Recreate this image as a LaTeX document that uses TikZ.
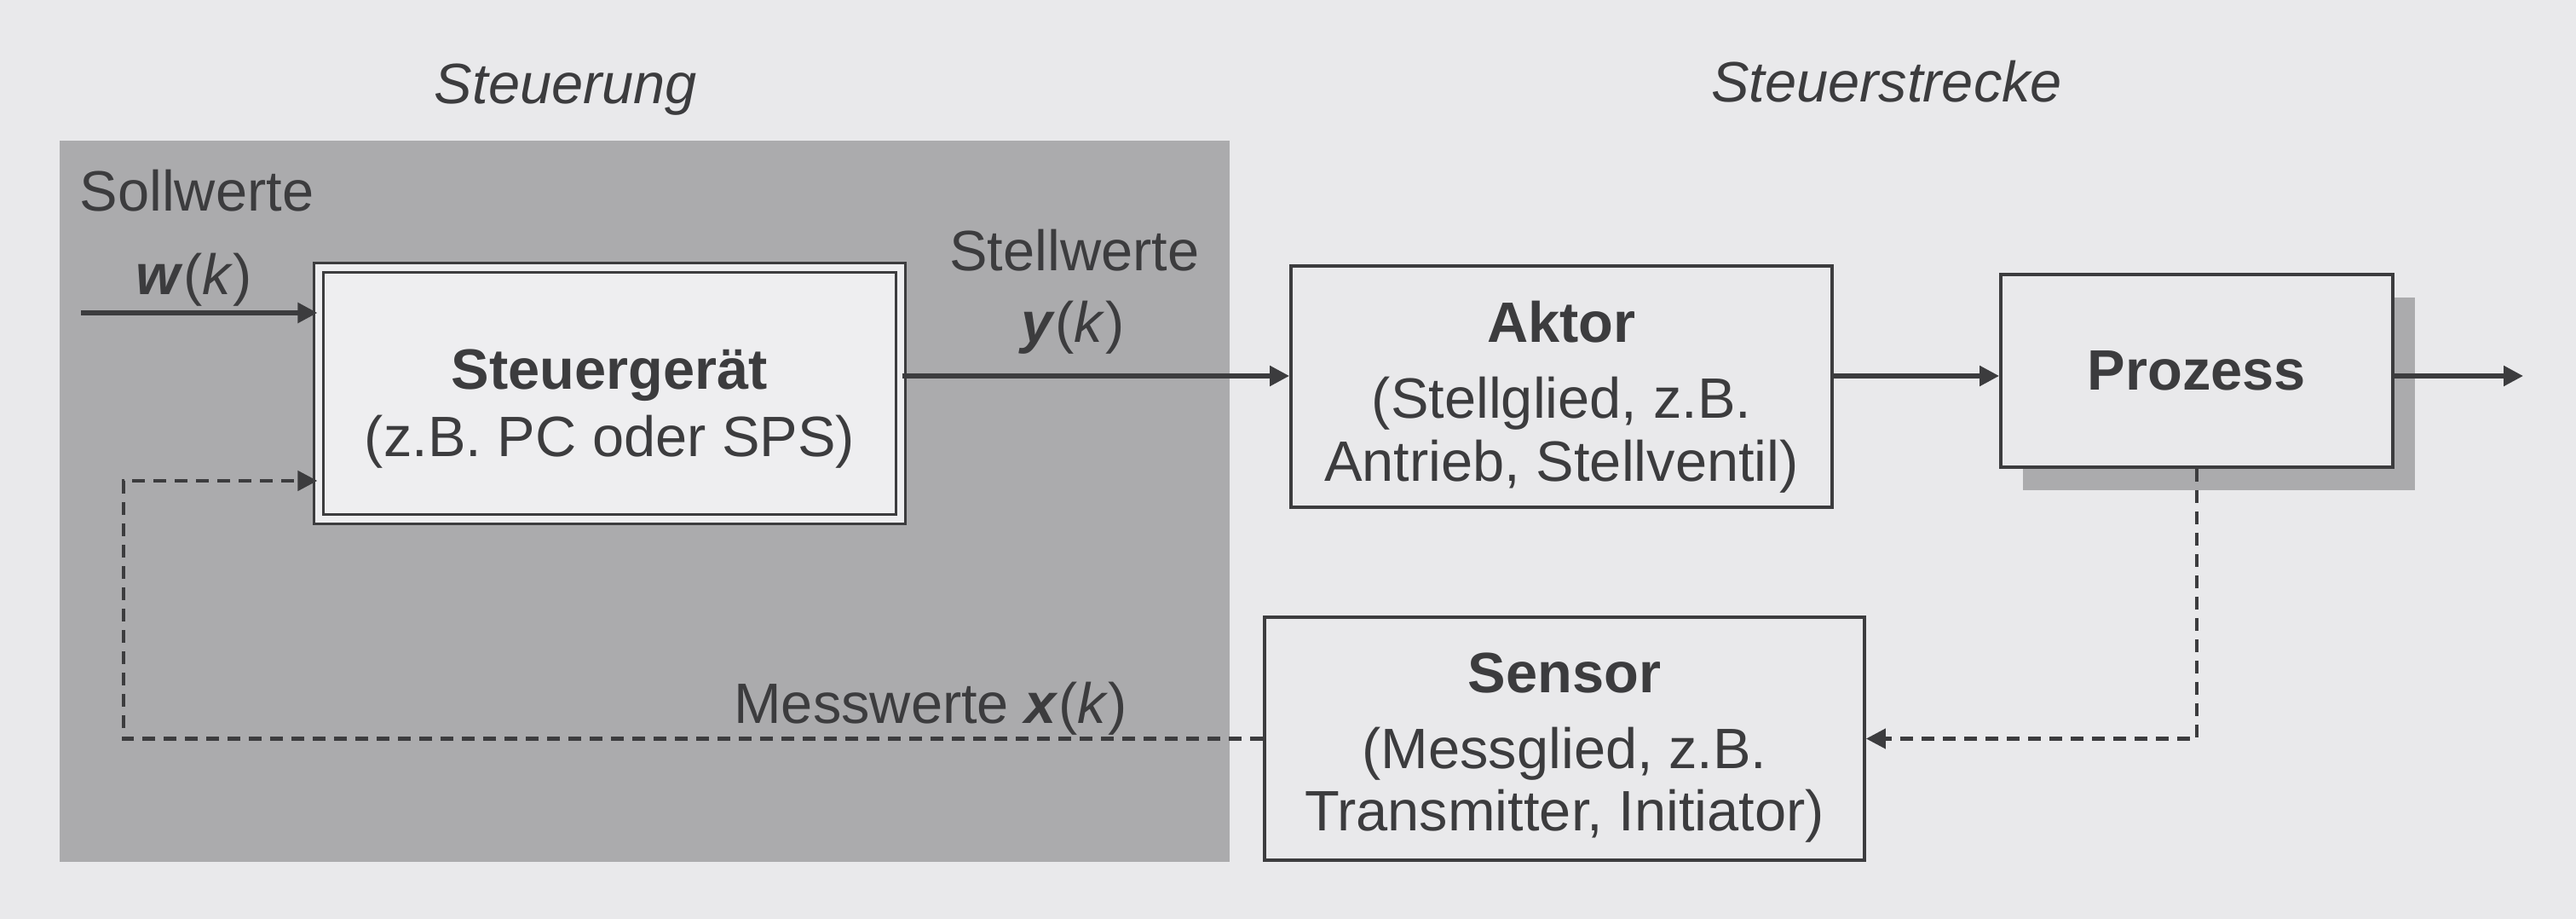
\documentclass[tikz,border=0pt]{standalone}
\usepackage{fontspec}
\setmainfont{Liberation Sans}
\usepackage{xcolor}
\usepackage{tikz}
\usetikzlibrary{arrows.meta,shadows}
\definecolor{ink}{HTML}{3C3C3E}
\definecolor{paper}{HTML}{E9E9EB}
\definecolor{greybg}{HTML}{ABABAD}
\definecolor{boxwhite}{HTML}{EEEEF0}
\makeatletter
\renewcommand\small{%
  \@setfontsize\small{19pt}{21pt}%
}
\makeatother

\begin{document}
\begin{tikzpicture}[>={Triangle[length=2.3mm,width=2.3mm]}, every node/.style={font=\small, text=ink},
  block/.style={draw=ink, line width=1.1pt, fill=paper, align=center, inner sep=0pt},
  signal/.style={draw=ink, line width=1.5pt, ->},
  feedback/.style={signal, line width=1.3pt, dash pattern=on 1.5mm off 1mm}]
  \fill[paper] (0,0) rectangle (30.23,-10.78);
  \useasboundingbox (0,0) rectangle (30.23,-10.78);
  \fill[greybg] (0.70,-1.65) rectangle (14.43,-10.11);
  \node[anchor=base, font=\small\itshape] (steuerung) at (6.64,-1.22) {Steuerung};
  \node[anchor=base, font=\small\itshape] (strecke) at (22.14,-1.20) {Steuerstrecke};

  \node[block, fill=boxwhite, double=boxwhite, double distance=2.2pt, line width=0.9pt, minimum width=6.83cm, minimum height=2.95cm] (stg) at (7.155,-4.615) {\rule{0pt}{0.83cm}\textbf{Steuergerät}\\[0.5mm](z.B. PC oder SPS)};
  \node[block, minimum width=6.35cm, minimum height=2.83cm] (aktor) at (18.325,-4.535) {\rule{0pt}{0.73cm}\textbf{Aktor}\\[1.5mm](Stellglied, z.B.\\Antrieb, Stellventil)};
  \node[block, minimum width=4.6cm, minimum height=2.26cm, drop shadow={shadow xshift=0.26cm, shadow yshift=-0.27cm, fill=greybg, opacity=1}] (prozess) at (25.78,-4.35) {\textbf{Prozess}};
  \node[block, minimum width=7.04cm, minimum height=2.85cm] (sensor) at (18.36,-8.665) {\rule{0pt}{0.68cm}\textbf{Sensor}\\[1.5mm](Messglied, z.B.\\Transmitter, Initiator)};

  \node[anchor=base] (soll) at (2.31,-2.48) {Sollwerte};
  \node[anchor=base] (wk) at (2.28,-3.46) {\textbf{\textit{w}}(\textit{k})};
  \node[anchor=base] (stell) at (12.61,-3.18) {Stellwerte};
  \node[anchor=base] (yk) at (12.59,-4.02) {\textbf{\textit{y}}(\textit{k})};
  \node[anchor=base] (mess) at (10.92,-8.49) {Messwerte \textbf{\textit{x}}(\textit{k})};

  \coordinate (win) at (0.95,-3.67);
  \coordinate (sig) at (0,-4.41);
  \coordinate (aus) at (29.61,-4.41);
  \coordinate (fbk) at (1.45,-5.64);
  \draw[signal] (win) -- (win -| stg.west);
  \draw[signal] (stg.east |- sig) -- (aktor.west |- sig);
  \draw[signal] (aktor.east |- sig) -- (prozess.west |- sig);
  \draw[signal] (prozess.east |- sig) -- (aus);
  \draw[feedback] (prozess.south) |- (sensor.east);
  \draw[feedback] (sensor.west) -| (fbk) -- (fbk -| stg.west);
\end{tikzpicture}
\end{document}
